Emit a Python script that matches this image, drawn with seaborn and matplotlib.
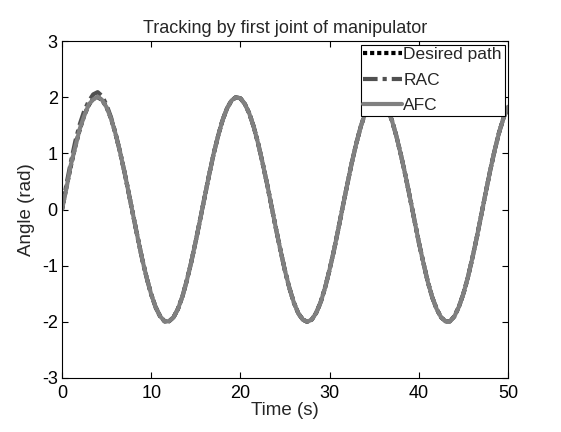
import matplotlib
matplotlib.use("Agg")
import matplotlib.pyplot as plt
import seaborn as sns
import numpy as np
import pandas as pd

sns.set_theme(style="ticks")
plt.rcParams['font.family'] = ['Liberation Sans', 'DejaVu Sans']
plt.rcParams['axes.unicode_minus'] = False

# time samples (s), 0.5 s step
time_s = [i * 0.5 for i in range(101)]

desired = [0.00, 0.40, 0.78, 1.13, 1.43, 1.68, 1.86, 1.97, 2.00, 1.95,
           1.82, 1.62, 1.35, 1.03, 0.67, 0.28, -0.12, -0.51, -0.89, -1.22,
           -1.51, -1.74, -1.90, -1.99, -1.99, -1.92, -1.77, -1.55, -1.26, -0.93,
           -0.56, -0.17, 0.23, 0.62, 0.99, 1.31, 1.59, 1.80, 1.94, 2.00,
           1.98, 1.88, 1.71, 1.47, 1.17, 0.82, 0.45, 0.05, -0.35, -0.73,
           -1.09, -1.40, -1.66, -1.85, -1.96, -2.00, -1.96, -1.84, -1.65, -1.39,
           -1.07, -0.72, -0.33, 0.07, 0.46, 0.84, 1.18, 1.48, 1.72, 1.89,
           1.98, 2.00, 1.93, 1.79, 1.58, 1.30, 0.97, 0.61, 0.22, -0.18,
           -0.58, -0.94, -1.28, -1.56, -1.77, -1.92, -1.99, -1.99, -1.90, -1.73,
           -1.50, -1.21, -0.87, -0.50, -0.10, 0.30, 0.69, 1.05, 1.37, 1.63,
           1.83]

rac = [0.00, 0.45, 0.85, 1.22, 1.52, 1.76, 1.93, 2.05, 2.09, 2.02,
       1.86, 1.64, 1.36, 1.03, 0.67, 0.28, -0.12, -0.51, -0.89, -1.22,
       -1.51, -1.74, -1.90, -1.99, -1.99, -1.92, -1.77, -1.55, -1.26, -0.93,
       -0.56, -0.17, 0.23, 0.62, 0.99, 1.31, 1.59, 1.80, 1.94, 2.00,
       1.98, 1.88, 1.71, 1.47, 1.17, 0.82, 0.45, 0.05, -0.35, -0.73,
       -1.09, -1.40, -1.66, -1.85, -1.96, -2.00, -1.96, -1.84, -1.65, -1.39,
       -1.07, -0.72, -0.33, 0.07, 0.46, 0.84, 1.18, 1.48, 1.72, 1.89,
       1.98, 2.00, 1.93, 1.79, 1.58, 1.30, 0.97, 0.61, 0.22, -0.18,
       -0.58, -0.94, -1.28, -1.56, -1.77, -1.92, -1.99, -1.99, -1.90, -1.73,
       -1.50, -1.21, -0.87, -0.50, -0.10, 0.30, 0.69, 1.05, 1.37, 1.63,
       1.83]

afc = [0.00, 0.38, 0.80, 1.12, 1.44, 1.67, 1.87, 1.96, 2.01, 1.95,
       1.82, 1.62, 1.35, 1.03, 0.67, 0.28, -0.12, -0.51, -0.89, -1.22,
       -1.51, -1.74, -1.90, -1.99, -1.99, -1.92, -1.77, -1.55, -1.26, -0.93,
       -0.56, -0.17, 0.23, 0.62, 0.99, 1.31, 1.59, 1.80, 1.94, 2.00,
       1.98, 1.88, 1.71, 1.47, 1.17, 0.82, 0.45, 0.05, -0.35, -0.73,
       -1.09, -1.40, -1.66, -1.85, -1.96, -2.00, -1.96, -1.84, -1.65, -1.39,
       -1.07, -0.72, -0.33, 0.07, 0.46, 0.84, 1.18, 1.48, 1.72, 1.89,
       1.98, 2.00, 1.93, 1.79, 1.58, 1.30, 0.97, 0.61, 0.22, -0.18,
       -0.58, -0.94, -1.28, -1.56, -1.77, -1.92, -1.99, -1.99, -1.90, -1.73,
       -1.50, -1.21, -0.87, -0.50, -0.10, 0.30, 0.69, 1.05, 1.37, 1.63,
       1.83]

x_ticks = [0, 10, 20, 30, 40, 50]
y_ticks = [-3, -2, -1, 0, 1, 2, 3]

fig = plt.figure(figsize=(5.61, 4.32), dpi=100)
ax = fig.add_axes([0.1105, 0.125, 0.795, 0.780])

df = pd.DataFrame({"t": time_s, "desired": desired, "rac": rac, "afc": afc})
sns.lineplot(data=df, x="t", y="desired", ax=ax, color="black", lw=3,
             linestyle=(0, (1, 0.7)), label="Desired path")
sns.lineplot(data=df, x="t", y="rac", ax=ax, color="#505050", lw=3,
             linestyle=(0, (3.5, 1.2, 1, 1.2)), label="RAC")
sns.lineplot(data=df, x="t", y="afc", ax=ax, color="#808080", lw=3,
             linestyle="-", label="AFC")

fs = 13
ax.set_xlim(0, 50)
ax.set_ylim(-3, 3)
ax.set_xticks(x_ticks)
ax.set_yticks(y_ticks)
ax.tick_params(direction="in", length=4, width=0.8, top=True, right=True,
               labelsize=fs, colors="black")
ax.tick_params(axis="x", pad=5)
ax.tick_params(axis="y", pad=3)
for s in ax.spines.values():
    s.set_visible(True)
    s.set_color("black")
    s.set_linewidth(0.8)
ax.set_xlabel("Time (s)", fontsize=13.5, labelpad=0)
ax.set_ylabel("Angle (rad)", fontsize=13.5, labelpad=5)
ax.set_title("Tracking by first joint of manipulator", fontsize=13, pad=6)

leg = ax.legend(loc="upper right", fontsize=12.5, frameon=True, fancybox=False,
                handlelength=2.2, handletextpad=0.1, borderpad=0.15,
                labelspacing=0.6, borderaxespad=0.2, framealpha=1)
leg.get_frame().set_edgecolor("black")
leg.get_frame().set_linewidth(0.8)

fig.savefig("out.png", dpi=100)
